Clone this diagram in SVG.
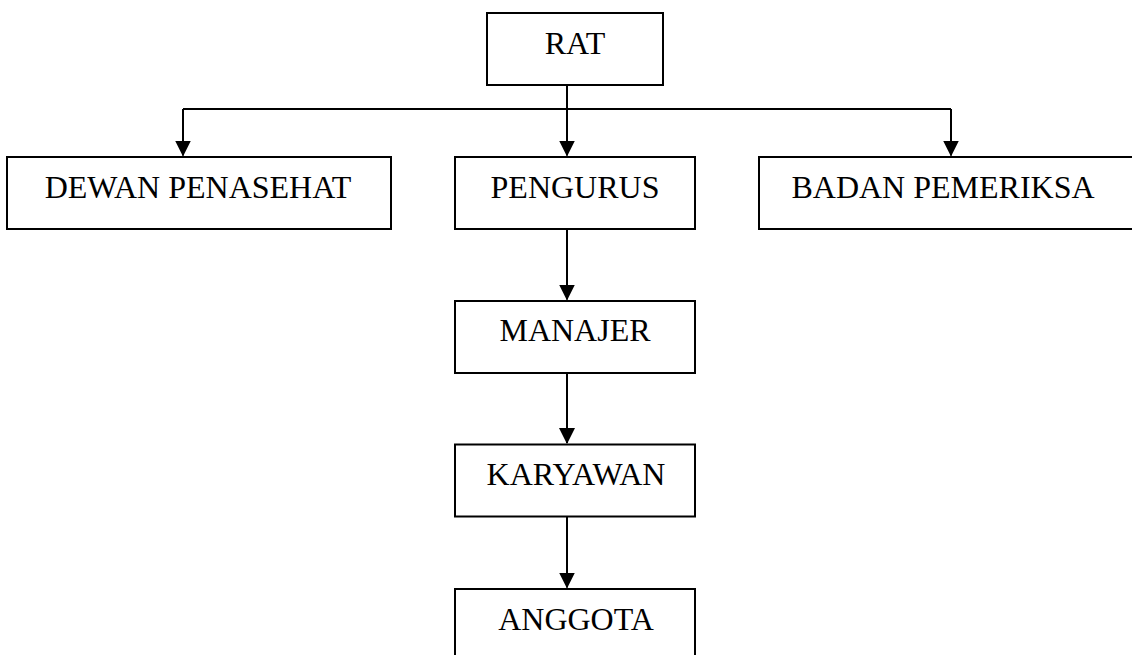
<svg xmlns="http://www.w3.org/2000/svg" width="1132" height="655" viewBox="0 0 1132 655">
  <defs>
    <style>
      .box { fill: #ffffff; stroke: #000000; stroke-width: 2; }
      .lbl { font-family: "Liberation Serif", "Times New Roman", serif; font-size: 32px; fill: #000000; text-anchor: middle; }
      .conn { fill: none; stroke: #000000; stroke-width: 2; }
    </style>
    <marker id="arrow" markerUnits="userSpaceOnUse" markerWidth="16" markerHeight="16" refX="15" refY="8" orient="auto" viewBox="0 0 16 16">
      <path d="M0,0 L16,8 L0,16 z" fill="#000000"/>
    </marker>
  </defs>
  <rect width="1132" height="655" fill="#ffffff"/>

  <g id="connectors">
    <path class="conn" d="M567,85 L567,155.5" marker-end="url(#arrow)"/>
    <path class="conn" d="M183,109 L951,109"/>
    <path class="conn" d="M183,109 L183,155.5" marker-end="url(#arrow)"/>
    <path class="conn" d="M951,109 L951,155.5" marker-end="url(#arrow)"/>
    <path class="conn" d="M567,229 L567,299.5" marker-end="url(#arrow)"/>
    <path class="conn" d="M567,373 L567,443" marker-end="url(#arrow)"/>
    <path class="conn" d="M567,516.5 L567,587.5" marker-end="url(#arrow)"/>
  </g>

  <g id="rat">
    <rect class="box" x="487" y="13" width="176" height="72"/>
    <text class="lbl" x="575" y="54">RAT</text>
  </g>
  <g id="dewan-penasehat">
    <rect class="box" x="7" y="157" width="384" height="72"/>
    <text class="lbl" x="198" y="198">DEWAN PENASEHAT</text>
  </g>
  <g id="pengurus">
    <rect class="box" x="455" y="157" width="240" height="72"/>
    <text class="lbl" x="575" y="198">PENGURUS</text>
  </g>
  <g id="badan-pemeriksa">
    <rect class="box" x="759" y="157" width="390" height="72"/>
    <text class="lbl" x="943" y="198">BADAN PEMERIKSA</text>
  </g>
  <g id="manajer">
    <rect class="box" x="455" y="301" width="240" height="72"/>
    <text class="lbl" x="575" y="341">MANAJER</text>
  </g>
  <g id="karyawan">
    <rect class="box" x="455" y="444.5" width="240" height="72"/>
    <text class="lbl" x="576" y="485">KARYAWAN</text>
  </g>
  <g id="anggota">
    <rect class="box" x="455" y="589" width="240" height="80"/>
    <text class="lbl" x="576" y="630">ANGGOTA</text>
  </g>
</svg>
